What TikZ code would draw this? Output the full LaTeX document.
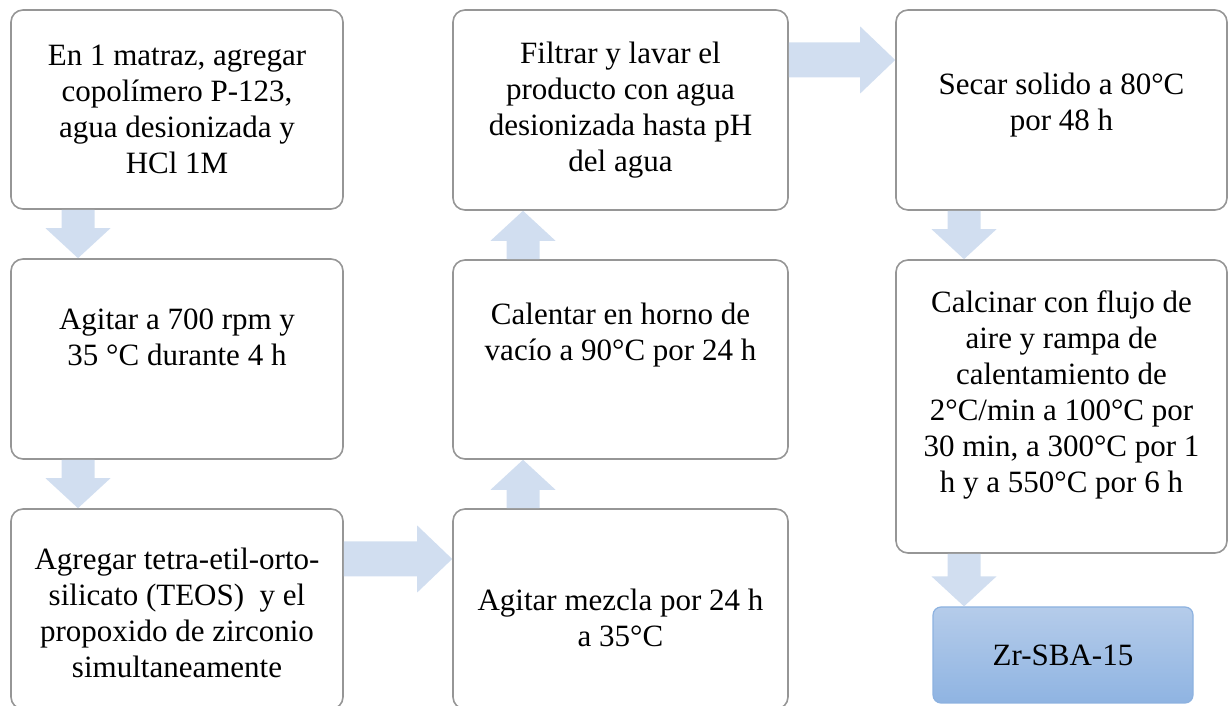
\documentclass[tikz,border=0pt]{standalone}
\usepackage{fontspec}
\setmainfont{Liberation Serif}
\usetikzlibrary{calc}
\definecolor{blkblue}{RGB}{209,222,240}
\definecolor{boxline}{RGB}{150,150,150}
\definecolor{zrtop}{RGB}{181,204,234}
\definecolor{zrbot}{RGB}{143,180,226}
\definecolor{zrline}{RGB}{141,178,224}
\tikzset{
  stepbox/.style={draw=boxline, line width=1.6pt, rounded corners=12pt, fill=white, inner sep=0pt},
  steptext/.style={align=center, inner sep=0pt, font=\fontsize{31}{36}\selectfont},
  endbox/.style={draw=zrline, line width=1.2pt, rounded corners=8pt, top color=zrtop, bottom color=zrbot,
    align=center, inner sep=0pt, font=\fontsize{31}{36}\selectfont},
  blk/.style={fill=blkblue, draw=none}
}
% vertical block arrow: x, from, to, dir (+1 up, -1 down)
\newcommand\varrowblk[4]{%
  \fill[blk] let \p1=(#2), \p2=(#3) in
  (#1-16.5,\y1) -- (#1+16.5,\y1) -- (#1+16.5,{\y2-(#4)*30}) -- (#1+32.5,{\y2-(#4)*30})
  -- (#1,\y2) -- (#1-32.5,{\y2-(#4)*30}) -- (#1-16.5,{\y2-(#4)*30}) -- cycle;}
% horizontal block arrow: y, from, to
\newcommand\harrowblk[3]{%
  \fill[blk] let \p1=(#2), \p2=(#3) in
  (\x1,#1-17.5) -- (\x1,#1+17.5) -- ({\x2-35},#1+17.5) -- ({\x2-35},#1+33.5)
  -- (\x2,#1) -- ({\x2-35},#1-33.5) -- ({\x2-35},#1-17.5) -- cycle;}
\begin{document}
\begin{tikzpicture}[x=1pt,y=1pt]
\useasboundingbox (0,0) rectangle (1228,706);
\begin{scope}
\clip (0,0) rectangle (1228,706);
\node[stepbox, minimum width=332, minimum height=199] (A) at (177,596.5) {};
\node[steptext] (At) at (A.center)
  {En 1 matraz, agregar\\copolímero P-123,\\agua desionizada y\\HCl 1M};
\node[stepbox, minimum width=332, minimum height=200] (B) at (177,347) {};
\node[steptext] (Bt) at ([yshift=22]B.center)
  {Agitar a 700 rpm y\\35 °C durante 4 h};
\node[stepbox, minimum width=332, minimum height=200] (C) at (177,97) {};
\node[steptext] (Ct) at ([yshift=-4]C.center)
  {Agregar tetra-etil-orto-\\silicato (TEOS)~ y el\\propoxido de zirconio\\simultaneamente};
\node[stepbox, minimum width=335, minimum height=200] (D) at (620.5,97) {};
\node[steptext] (Dt) at ([yshift=-9]D.center)
  {Agitar mezcla por 24 h\\a 35°C};
\node[stepbox, minimum width=335, minimum height=199] (E) at (620.5,346.5) {};
\node[steptext] (Et) at ([yshift=24]E.center)
  {Calentar en horno de\\vacío a 90°C por 24 h};
\node[stepbox, minimum width=335, minimum height=200] (F) at (620.5,596) {};
\node[steptext] (Ft) at (F.center)
  {Filtrar y lavar el\\producto con agua\\desionizada hasta pH\\del agua};
\node[stepbox, minimum width=331, minimum height=200] (G) at (1061.5,596) {};
\node[steptext] (Gt) at ([yshift=5]G.center)
  {Secar solido a 80°C\\por 48 h};
\node[stepbox, minimum width=331, minimum height=293] (H) at (1061.5,299.5) {};
\node[steptext] (Ht) at ([yshift=12]H.center)
  {Calcinar con flujo de\\aire y rampa de\\calentamiento de\\2°C/min a 100°C por\\30 min, a 300°C por 1\\h y a 550°C por 6 h};
\node[endbox, minimum width=260, minimum height=96] (I) at (1063,51) {Zr-SBA-15};

\varrowblk{78}{A.south}{B.north}{-1}
\varrowblk{78}{B.south}{C.north}{-1}
\harrowblk{147}{C.east}{D.west}
\varrowblk{523}{D.north}{E.south}{1}
\varrowblk{523}{E.north}{F.south}{1}
\harrowblk{646}{F.east}{G.west}
\varrowblk{964}{G.south}{H.north}{-1}
\varrowblk{964}{H.south}{I.north}{-1}
\end{scope}
\end{tikzpicture}
\end{document}
